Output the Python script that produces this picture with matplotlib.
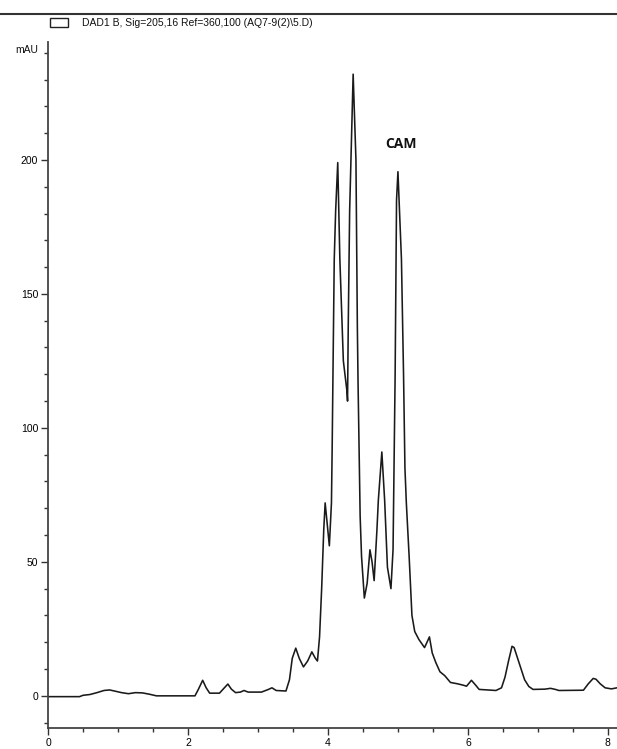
import matplotlib
matplotlib.use("Agg")
import matplotlib.pyplot as plt
from matplotlib.ticker import MultipleLocator
from matplotlib.patches import Rectangle
from matplotlib.lines import Line2D

# Retention time (min) and absorbance (mAU)
time_min = [0.00, 0.45, 0.50, 0.60, 0.70, 0.80, 0.88, 0.95, 1.05, 1.15, 1.25, 1.35, 1.45, 1.55,
            2.10, 2.15, 2.21, 2.26, 2.31, 2.45, 2.52, 2.57, 2.62, 2.68, 2.75, 2.80, 2.86, 3.05,
            3.15, 3.20, 3.26, 3.40, 3.45, 3.49, 3.54, 3.59, 3.65, 3.71, 3.77, 3.82, 3.85, 3.88,
            3.91, 3.94, 3.96, 3.99, 4.02, 4.05, 4.06, 4.075, 4.09, 4.11, 4.14, 4.17, 4.22, 4.27,
            4.28, 4.29, 4.31, 4.36, 4.40, 4.42, 4.43, 4.46, 4.48, 4.52, 4.56, 4.60, 4.63, 4.66,
            4.70, 4.72, 4.77, 4.81, 4.85, 4.90, 4.93, 4.96, 4.98, 5.00, 5.05, 5.08, 5.10, 5.12,
            5.16, 5.20, 5.24, 5.30, 5.38, 5.45, 5.49, 5.54, 5.60, 5.67, 5.75, 5.85, 5.93, 5.98,
            6.05, 6.11, 6.16, 6.40, 6.48, 6.53, 6.58, 6.63, 6.66, 6.71, 6.76, 6.81, 6.87, 6.93,
            7.10, 7.18, 7.25, 7.30, 7.65, 7.72, 7.79, 7.83, 7.89, 7.96, 8.05, 8.13]
signal_mau = [-0.3, -0.3, 0.2, 0.5, 1.2, 2.0, 2.2, 1.8, 1.2, 0.8, 1.2, 1.1, 0.6, 0.0,
              0.0, 2.5, 5.8, 3.0, 1.0, 1.0, 3.0, 4.4, 2.5, 1.2, 1.4, 2.0, 1.4, 1.4,
              2.4, 3.0, 2.0, 1.8, 6.0, 14.0, 17.8, 14.0, 10.8, 13.0, 16.4, 14.0, 13.0, 22.0,
              40.0, 62.0, 72.0, 64.0, 56.0, 72.0, 92.0, 128.0, 163.0, 181.0, 199.0, 163.0, 125.0, 114.0,
              110.0, 138.0, 181.0, 232.0, 200.0, 138.0, 117.0, 67.0, 52.0, 36.5, 42.0, 54.5, 50.0, 43.0,
              62.0, 73.0, 91.0, 73.0, 48.0, 40.0, 54.5, 120.0, 185.0, 195.6, 163.0, 120.0, 85.0, 72.0,
              52.0, 30.0, 24.0, 21.0, 18.0, 22.0, 16.0, 12.5, 9.0, 7.5, 5.0, 4.5, 4.0, 3.6,
              5.8, 4.0, 2.4, 2.0, 3.0, 7.0, 13.0, 18.5, 18.0, 14.0, 10.0, 6.0, 3.5, 2.4,
              2.5, 2.8, 2.4, 2.0, 2.1, 4.5, 6.5, 6.2, 4.5, 3.0, 2.6, 3.0]

x_ticks = [0, 2, 4, 6, 8]
y_ticks = [0, 50, 100, 150, 200]
legend_text = "DAD1 B, Sig=205,16 Ref=360,100 (AQ7-9(2)\\5.D)"
peak_label = "CAM"
peak_label_pos = (5.05, 206)

W, H = 617, 749
fig = plt.figure(figsize=(W / 100, H / 100), dpi=100)
ax = fig.add_axes([48 / W, 1 - 728 / H, (W - 48) / W, (728 - 42) / H])

ax.plot(time_min, signal_mau, color="#1a1a1a", lw=1.15)

ax.set_xlim(0, 8.13)
ax.set_ylim(-12, 244)
ax.set_xticks(x_ticks)
ax.set_yticks(y_ticks)
ax.xaxis.set_minor_locator(MultipleLocator(0.5))
ax.yaxis.set_minor_locator(MultipleLocator(10))

for s in ("top", "right"):
    ax.spines[s].set_visible(False)
for s in ("left", "bottom"):
    ax.spines[s].set_color("#444444")
    ax.spines[s].set_linewidth(1.3)

ax.tick_params(which="major", direction="out", length=5, width=1.0, color="#333333",
               labelsize=7.5, pad=2)
ax.tick_params(which="minor", direction="out", length=3, width=1.0, color="#333333")
for lbl in ax.get_xticklabels() + ax.get_yticklabels():
    lbl.set_fontfamily("Liberation Sans")

ax.text(peak_label_pos[0], peak_label_pos[1], peak_label, ha="center", va="center",
        fontsize=10, fontweight="bold", family="Open Sans", color="#111111")

# mAU unit label
fig.text(15 / W, 1 - 50 / H, "mAU", ha="left", va="center", fontsize=7.5,
         family="Liberation Sans", color="#111111")

# top frame line and legend entry
fig.add_artist(Line2D([0, 1], [1 - 14 / H, 1 - 14 / H], transform=fig.transFigure,
                      color="#333333", lw=1.5))
fig.add_artist(Rectangle((50 / W, 1 - 27 / H), 18 / W, 9 / H, transform=fig.transFigure,
                         fill=False, edgecolor="#222222", lw=1.0))
fig.text(82 / W, 1 - 23 / H, legend_text, ha="left", va="center", fontsize=7.5,
         family="Liberation Sans", color="#111111")

fig.savefig("out.png", dpi=100)
